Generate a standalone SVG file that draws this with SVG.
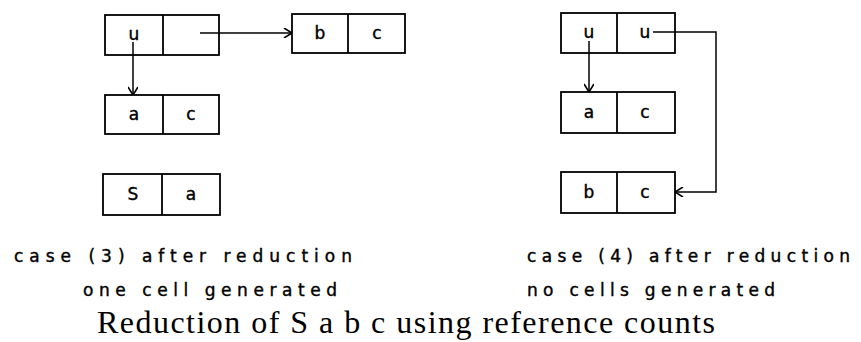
<svg xmlns="http://www.w3.org/2000/svg" width="861" height="342" viewBox="0 0 861 342">
<style>
.box{fill:none;stroke:#000;stroke-width:1.8}
.cell{font-family:"DejaVu Sans","Liberation Sans",sans-serif;font-size:17px;text-anchor:middle;dominant-baseline:central;fill:#000;stroke:#000;stroke-width:0.4}
.lbl{font-family:"DejaVu Sans","Liberation Sans",sans-serif;font-size:17px;fill:#000;stroke:#000;stroke-width:0.4}
.cap{font-family:"Liberation Serif","DejaVu Serif",serif;font-size:32px;fill:#000}
.edge{fill:none;stroke:#000;stroke-width:1.5}
</style>
<defs>
<marker id="ah" viewBox="0 0 10 10" refX="10" refY="5" markerWidth="10" markerHeight="10" markerUnits="userSpaceOnUse" orient="auto">
<path d="M2,0 L10,5 L2,10" fill="none" stroke="#000" stroke-width="1.6"/>
</marker>
</defs>
<rect width="861" height="342" fill="#fff"/>
<g id="n-u-empty">
<rect class="box" x="105" y="15" width="114" height="40"/>
<line class="box" x1="163" y1="15" x2="163" y2="55"/>
<text class="cell" x="134" y="34">u</text>
</g>
<g id="n-b-c-left">
<rect class="box" x="292" y="14" width="113" height="39"/>
<line class="box" x1="348" y1="14" x2="348" y2="53"/>
<text class="cell" x="320" y="33">b</text>
<text class="cell" x="377" y="33">c</text>
</g>
<g id="n-a-c-left">
<rect class="box" x="105" y="95" width="114" height="39"/>
<line class="box" x1="163" y1="95" x2="163" y2="134"/>
<text class="cell" x="134" y="114">a</text>
<text class="cell" x="191" y="114">c</text>
</g>
<g id="n-S-a">
<rect class="box" x="103" y="174" width="117" height="41"/>
<line class="box" x1="162" y1="174" x2="162" y2="215"/>
<text class="cell" x="133" y="194">S</text>
<text class="cell" x="191" y="194">a</text>
</g>
<g id="n-u-u">
<rect class="box" x="561" y="13" width="114" height="40"/>
<line class="box" x1="617" y1="13" x2="617" y2="53"/>
<text class="cell" x="589" y="32">u</text>
<text class="cell" x="645" y="32">u</text>
</g>
<g id="n-a-c-right">
<rect class="box" x="561" y="92" width="114" height="41"/>
<line class="box" x1="617" y1="92" x2="617" y2="133"/>
<text class="cell" x="589" y="112">a</text>
<text class="cell" x="645" y="112">c</text>
</g>
<g id="n-b-c-right">
<rect class="box" x="561" y="172" width="114" height="41"/>
<line class="box" x1="617" y1="172" x2="617" y2="213"/>
<text class="cell" x="589" y="192">b</text>
<text class="cell" x="645" y="192">c</text>
</g>
<g id="connectors">
<line class="edge" x1="200" y1="33" x2="292" y2="33" marker-end="url(#ah)"/>
<line class="edge" x1="133" y1="42" x2="133" y2="95" marker-end="url(#ah)"/>
<line class="edge" x1="589" y1="41" x2="589" y2="92" marker-end="url(#ah)"/>
<polyline class="edge" points="653,32 716,32 716,192 675,192" marker-end="url(#ah)"/>
</g>
<g id="labels">
<text class="lbl" x="14" y="262" textLength="338" lengthAdjust="spacing">case (3) after reduction</text>
<text class="lbl" x="83" y="296" textLength="254" lengthAdjust="spacing">one cell generated</text>
<text class="lbl" x="527" y="262" textLength="323" lengthAdjust="spacing">case (4) after reduction</text>
<text class="lbl" x="527" y="296" textLength="248" lengthAdjust="spacing">no cells generated</text>
<text class="cap" x="97" y="333" textLength="618" lengthAdjust="spacing">Reduction of S a b c using reference counts</text>
</g>
</svg>
